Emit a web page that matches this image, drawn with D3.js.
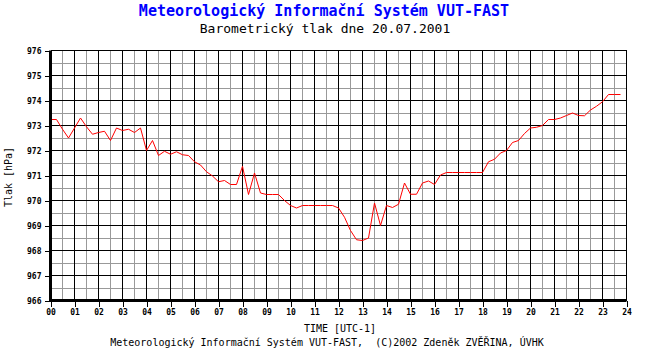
<!DOCTYPE html>
<html>
<head>
<meta charset="utf-8">
<script src="https://cdn.jsdelivr.net/npm/d3@7"></script>
<style>
  body { margin: 0; background: #fff; }
  svg { display: block; }
  text { font-family: "DejaVu Sans Mono", "Liberation Mono", monospace; white-space: pre; }
</style>
</head>
<body>
<div id="chart"></div>
<script>
// pressure readings every 15 minutes, 00:00 .. 23:45
const stepHours = 0.25;
const pressure = [
    973.24, 973.24, 972.85, 972.5, 972.9, 973.3, 972.95, 972.65,
    972.72, 972.77, 972.4, 972.9, 972.8, 972.85, 972.72, 972.9,
    972.0, 972.4, 971.8, 971.97, 971.85, 971.95, 971.83, 971.8,
    971.55, 971.42, 971.15, 970.98, 970.75, 970.8, 970.64, 970.64,
    971.37, 970.24, 971.1, 970.3, 970.24, 970.24, 970.24, 970.0,
    969.8, 969.7, 969.8, 969.8, 969.8, 969.8, 969.8, 969.8,
    969.7, 969.33, 968.8, 968.43, 968.4, 968.5, 969.9, 969.0,
    969.8, 969.72, 969.85, 970.7, 970.25, 970.25, 970.7, 970.78,
    970.64, 971.02, 971.12, 971.12, 971.12, 971.12, 971.12, 971.12,
    971.12, 971.55, 971.65, 971.9, 972.0, 972.32, 972.4, 972.68,
    972.9, 972.93, 973.0, 973.24, 973.24, 973.3, 973.4, 973.5,
    973.4, 973.39, 973.62, 973.77, 973.95, 974.24, 974.24, 974.24
];
const hourTicks = d3.range(0, 25);
const hourLabels = hourTicks.map(h => (h < 10 ? "0" : "") + h);
const pressureTicks = d3.range(966, 977);

const title = "Meteorologický Informační Systém VUT-FAST";
const subtitle = "Barometrický tlak dne 20.07.2001";
const xTitle = "TIME [UTC-1]";
const yTitle = "Tlak [hPa]";
const footer = "Meteorologický Informační Systém VUT-FAST,  (C)2002 Zdeněk ZVĚŘINA, ÚVHK";

let svg = d3.select("#chart").append("svg")
    .attr("width", 650)
    .attr("height", 350);

let x = d3.scaleLinear().domain([0, 24]).range([50.5, 626.5]);
let y = d3.scaleLinear().domain([966, 976]).range([300.5, 50.5]);

// minor grid
let grid = svg.append("g").attr("shape-rendering", "crispEdges");
grid.selectAll(".vminor")
    .data(d3.range(0.5, 24, 1))
    .join("line")
    .attr("x1", d => x(d)).attr("x2", d => x(d))
    .attr("y1", y(976)).attr("y2", y(966))
    .attr("stroke", "#999");
grid.selectAll(".hminor")
    .data(d3.range(966.5, 976, 1))
    .join("line")
    .attr("x1", x(0)).attr("x2", x(24))
    .attr("y1", d => y(d)).attr("y2", d => y(d))
    .attr("stroke", "#999");

// major grid
grid.selectAll(".vmajor")
    .data(hourTicks)
    .join("line")
    .attr("x1", d => x(d)).attr("x2", d => x(d))
    .attr("y1", y(976)).attr("y2", y(966))
    .attr("stroke", "#000");
grid.selectAll(".hmajor")
    .data(pressureTicks)
    .join("line")
    .attr("x1", x(0)).attr("x2", x(24))
    .attr("y1", d => y(d)).attr("y2", d => y(d))
    .attr("stroke", "#000");

// pressure line
let line = d3.line()
    .x((d, i) => x(i * stepHours))
    .y(d => y(d));

svg.append("path")
    .datum(pressure)
    .attr("d", line)
    .attr("fill", "none")
    .attr("stroke", "#ff0000")
    .attr("stroke-width", 1);

// axes
let yAxis = svg.append("g")
    .attr("transform", `translate(${x(0)},0)`)
    .call(d3.axisLeft(y).tickValues(pressureTicks).tickSize(6).tickPadding(3).tickFormat(d3.format("d")));
let xAxis = svg.append("g")
    .attr("transform", `translate(0,${y(966)})`)
    .call(d3.axisBottom(x).tickValues(hourTicks).tickSize(6).tickPadding(3).tickFormat((d, i) => hourLabels[i]));

[yAxis, xAxis].forEach(a => {
    a.select(".domain").remove();
    a.selectAll(".tick line").attr("stroke", "#000").attr("shape-rendering", "crispEdges");
    a.selectAll(".tick text")
        .attr("fill", "#000")
        .style("font-family", "'DejaVu Sans Mono', monospace")
        .style("font-size", "8px")
        .style("font-weight", "bold");
});

// thick axis lines
svg.append("line")
    .attr("x1", x(0)).attr("x2", x(0))
    .attr("y1", y(976)).attr("y2", y(966) + 1)
    .attr("stroke", "#000").attr("stroke-width", 3);
svg.append("line")
    .attr("x1", x(0) - 1).attr("x2", x(24))
    .attr("y1", y(966)).attr("y2", y(966))
    .attr("stroke", "#000").attr("stroke-width", 3);

// texts
svg.append("text")
    .attr("x", 324).attr("y", 16)
    .attr("text-anchor", "middle")
    .attr("fill", "#0000ff")
    .style("font-size", "15px")
    .style("font-weight", "bold")
    .text(title);

svg.append("text")
    .attr("x", 325).attr("y", 33)
    .attr("text-anchor", "middle")
    .attr("fill", "#000")
    .style("font-size", "13px")
    .text(subtitle);

svg.append("text")
    .attr("transform", "translate(12,177) rotate(-90)")
    .attr("text-anchor", "middle")
    .attr("fill", "#000")
    .style("font-size", "10px")
    .text(yTitle);

svg.append("text")
    .attr("x", 340).attr("y", 332)
    .attr("text-anchor", "middle")
    .attr("fill", "#000")
    .style("font-size", "10px")
    .text(xTitle);

svg.append("text")
    .attr("x", 327).attr("y", 346)
    .attr("text-anchor", "middle")
    .attr("fill", "#000")
    .style("font-size", "10px")
    .text(footer);
</script>
</body>
</html>
